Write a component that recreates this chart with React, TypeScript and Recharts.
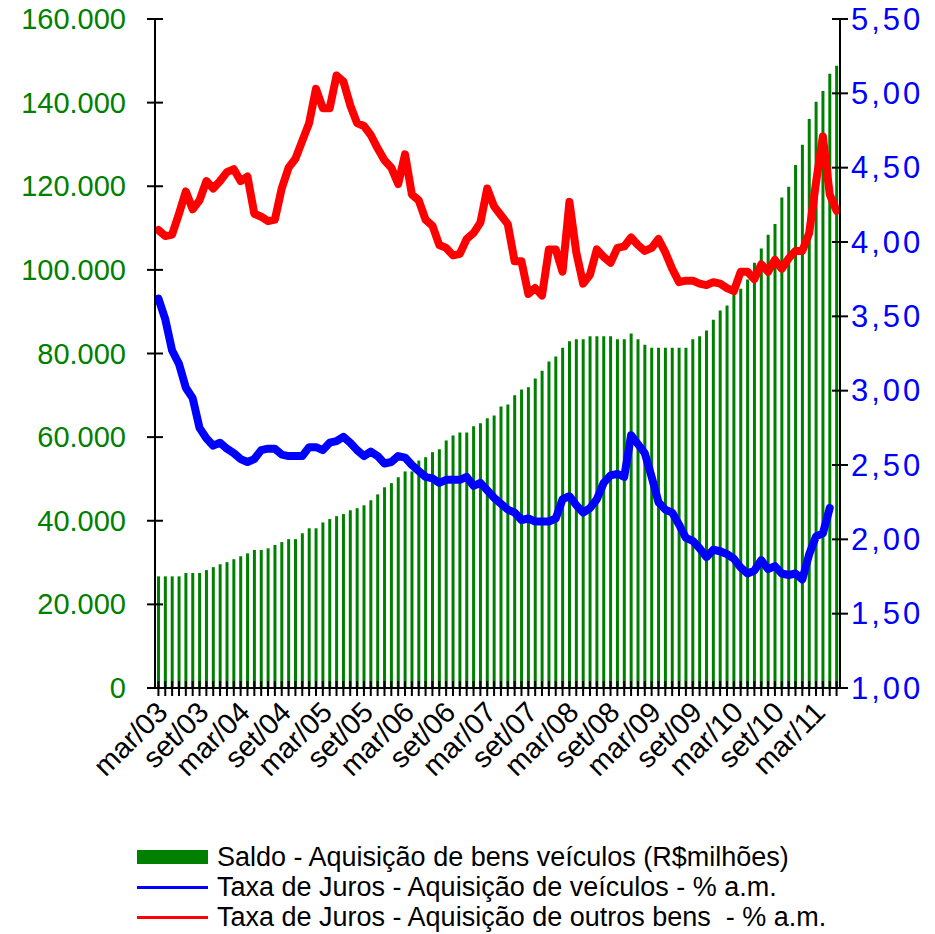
import { ComposedChart, Bar, Line, XAxis, YAxis } from 'recharts'

// monthly series, mar/03 .. jun/11
const MONTH_NAMES = ['jan', 'fev', 'mar', 'abr', 'mai', 'jun', 'jul', 'ago', 'set', 'out', 'nov', 'dez']
const START_YEAR = 2003
const START_MONTH = 2 // march
const N_MONTHS = 100

// Saldo - Aquisição de bens veículos (R$ milhões)
const saldoVeiculos = [
  26700, 26700, 26700, 26700, 27500, 27500, 27500, 28200, 28900, 29600,
  30100, 30800, 31500, 32200, 33000, 33000, 33400, 34200, 34900, 35600,
  35600, 37000, 38200, 38200, 39600, 40400, 41100, 41600, 42500, 43000,
  43700, 44900, 46300, 48000, 49000, 50400, 51800, 51800, 54400, 55200,
  56400, 57100, 59200, 60400, 61100, 61100, 62600, 63300, 64500, 65200,
  67300, 67800, 70000, 71400, 71900, 74000, 75900, 78100, 79300, 81400,
  82900, 83400, 83400, 84100, 84100, 84100, 84100, 83400, 83400, 84800,
  83400, 82100, 81400, 81400, 81400, 81400, 81400, 81400, 83400, 84100,
  85500, 88100, 90300, 91500, 94100, 95500, 97700, 101700, 105100, 108400,
  111000, 117300, 119900, 125100, 129900, 136100, 140200, 142800, 146900, 148800,
]

// Taxa de Juros - Aquisição de veículos (% a.m.)
const jurosVeiculos = [
  3.62, 3.48, 3.27, 3.18, 3.02, 2.95, 2.75, 2.68, 2.63, 2.65,
  2.61, 2.58, 2.54, 2.52, 2.54, 2.60, 2.61, 2.61, 2.57, 2.56,
  2.56, 2.56, 2.62, 2.62, 2.60, 2.65, 2.66, 2.69, 2.65, 2.60,
  2.56, 2.59, 2.56, 2.51, 2.52, 2.56, 2.55, 2.50, 2.46, 2.42,
  2.41, 2.38, 2.40, 2.40, 2.40, 2.42, 2.36, 2.38, 2.33, 2.28,
  2.24, 2.20, 2.18, 2.13, 2.14, 2.12, 2.12, 2.12, 2.14, 2.27,
  2.29, 2.23, 2.18, 2.21, 2.27, 2.38, 2.43, 2.44, 2.42, 2.70,
  2.64, 2.58, 2.42, 2.25, 2.20, 2.18, 2.10, 2.01, 1.99, 1.94,
  1.88, 1.93, 1.92, 1.90, 1.87, 1.81, 1.77, 1.79, 1.86, 1.80,
  1.82, 1.77, 1.76, 1.77, 1.73, 1.90, 2.02, 2.04, 2.21, null,
]

// Taxa de Juros - Aquisição de outros bens (% a.m.)
const jurosOutros = [
  4.08, 4.04, 4.05, 4.19, 4.34, 4.22, 4.28, 4.41, 4.36, 4.41,
  4.47, 4.49, 4.41, 4.44, 4.19, 4.17, 4.14, 4.15, 4.36, 4.50,
  4.56, 4.68, 4.80, 5.03, 4.90, 4.90, 5.12, 5.08, 4.92, 4.80,
  4.78, 4.72, 4.63, 4.55, 4.50, 4.39, 4.59, 4.32, 4.28, 4.15,
  4.11, 3.98, 3.96, 3.91, 3.92, 4.02, 4.06, 4.13, 4.36, 4.24,
  4.18, 4.12, 3.87, 3.87, 3.65, 3.69, 3.64, 3.95, 3.95, 3.80,
  4.27, 3.93, 3.72, 3.78, 3.95, 3.90, 3.86, 3.96, 3.97, 4.03,
  3.98, 3.94, 3.96, 4.02, 3.93, 3.82, 3.73, 3.74, 3.74, 3.72,
  3.71, 3.73, 3.72, 3.69, 3.67, 3.80, 3.80, 3.75, 3.85, 3.80,
  3.88, 3.82, 3.89, 3.94, 3.94, 4.06, 4.40, 4.71, 4.32, 4.21,
]

const leftTicks = [0, 20000, 40000, 60000, 80000, 100000, 120000, 140000, 160000]
const rightTicks = [1, 1.5, 2, 2.5, 3, 3.5, 4, 4.5, 5, 5.5]

const legendLabels = [
  'Saldo - Aquisição de bens veículos (R$milhões)',
  'Taxa de Juros - Aquisição de veículos - % a.m.',
  'Taxa de Juros - Aquisição de outros bens  - % a.m.',
]

const FONT = '"Liberation Sans", Arial, sans-serif'
const GREEN = '#008000'
const BLUE = '#0000FF'
const RED = '#FF0000'

function monthLabel(i: number): string {
  const m = (START_MONTH + i) % 12
  const y = START_YEAR + Math.floor((START_MONTH + i) / 12)
  return `${MONTH_NAMES[m]}/${String(y % 100).padStart(2, '0')}`
}

const chartData = Array.from({ length: N_MONTHS }, (_, i) => ({
  month: monthLabel(i),
  saldo: saldoVeiculos[i],
  veiculos: jurosVeiculos[i],
  outros: jurosOutros[i],
}))

function formatThousands(v: number): string {
  return String(v).replace(/\B(?=(\d{3})+(?!\d))/g, '.')
}

function formatRate(v: number): string {
  return v.toFixed(2).replace('.', ',')
}

function XTick(props: any) {
  const { x, y, payload } = props
  const idx = payload.index
  const lx = x + 11
  const ly = y + 26
  return (
    <g>
      <line x1={x} x2={x} y1={y - 7} y2={y + 8} stroke="#000" strokeWidth={2} />
      {idx % 6 === 0 && (
        <text
          x={lx}
          y={ly}
          transform={`rotate(-45 ${lx} ${ly})`}
          textAnchor="end"
          fill="#000"
          fontSize={29}
          fontFamily={FONT}
        >
          {payload.value}
        </text>
      )}
    </g>
  )
}

function LeftTick(props: any) {
  const { x, y, payload } = props
  return (
    <g>
      <line x1={x - 8} x2={x + 8} y1={y} y2={y} stroke="#000" strokeWidth={2} />
      <text x={x - 29} y={y} textAnchor="end" dominantBaseline="central" fill={GREEN} fontSize={29} fontFamily={FONT}>
        {formatThousands(payload.value)}
      </text>
    </g>
  )
}

function RightTick(props: any) {
  const { x, y, payload } = props
  return (
    <g>
      <line x1={x - 8} x2={x + 8} y1={y} y2={y} stroke="#000" strokeWidth={2} />
      <text
        x={x + 11}
        y={y}
        textAnchor="start"
        dominantBaseline="central"
        fill={BLUE}
        fontSize={31}
        letterSpacing={3}
        fontFamily={FONT}
      >
        {formatRate(payload.value)}
      </text>
    </g>
  )
}

export default function App() {
  return (
    <div style={{ position: 'absolute', left: 0, top: 0, width: 935, height: 934, background: '#fff' }}>
      <ComposedChart width={935} height={934} data={chartData} margin={{ top: 19, right: 0, bottom: 0, left: 0 }}>
        <XAxis
          dataKey="month"
          interval={0}
          tickSize={0}
          tickMargin={0}
          height={246}
          axisLine={{ stroke: '#000', strokeWidth: 2 }}
          tickLine={false}
          tick={<XTick />}
        />
        <YAxis
          yAxisId="left"
          domain={[0, 160000]}
          ticks={leftTicks}
          interval={0}
          width={155}
          tickSize={0}
          tickMargin={0}
          axisLine={{ stroke: '#000', strokeWidth: 2 }}
          tickLine={false}
          tick={<LeftTick />}
        />
        <YAxis
          yAxisId="right"
          orientation="right"
          domain={[1, 5.5]}
          ticks={rightTicks}
          interval={0}
          width={95}
          tickSize={0}
          tickMargin={0}
          axisLine={{ stroke: '#000', strokeWidth: 2 }}
          tickLine={false}
          tick={<RightTick />}
        />
        <Bar yAxisId="left" dataKey="saldo" fill={GREEN} barSize={3} isAnimationActive={false} />
        <Line
          yAxisId="right"
          dataKey="veiculos"
          stroke={BLUE}
          strokeWidth={8}
          strokeLinejoin="round"
          strokeLinecap="round"
          dot={false}
          isAnimationActive={false}
        />
        <Line
          yAxisId="right"
          dataKey="outros"
          stroke={RED}
          strokeWidth={8}
          strokeLinejoin="round"
          strokeLinecap="round"
          dot={false}
          isAnimationActive={false}
        />
      </ComposedChart>
      <div style={{ position: 'absolute', left: 137, top: 842, fontFamily: FONT, fontSize: 27, color: '#000' }}>
        {legendLabels.map((label, i) => (
          <div key={label} style={{ display: 'flex', alignItems: 'center', height: 30, whiteSpace: 'pre' }}>
            <span
              style={{
                display: 'inline-block',
                width: 71,
                height: i === 0 ? 14 : 3,
                background: [GREEN, BLUE, RED][i],
                marginRight: 9,
              }}
            />
            <span>{label}</span>
          </div>
        ))}
      </div>
    </div>
  )
}
